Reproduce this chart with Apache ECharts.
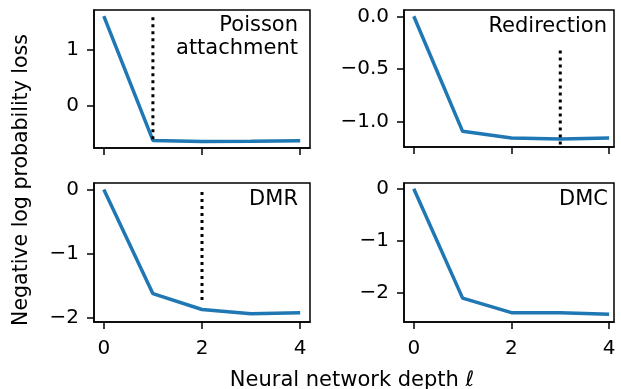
<!DOCTYPE html>
<html>
<head>
<meta charset="utf-8">
<script src="https://cdn.jsdelivr.net/npm/echarts@6/dist/echarts.min.js"></script>
<style>
html,body{margin:0;padding:0;background:#fff;}
#c{width:621px;height:389px;}
</style>
</head>
<body>
<div id="c"></div>
<script>
// ---- data ----
var depth = [0, 1, 2, 3, 4];
var poisson = [1.60, -0.625, -0.643, -0.638, -0.628];
var redirection = [0, -1.095, -1.158, -1.168, -1.158];
var dmr = [0, -1.62, -1.866, -1.933, -1.917];
var dmc = [0, -2.11, -2.39, -2.39, -2.42];
var panelNames = ['Poisson\nattachment', 'Redirection', 'DMR', 'DMC'];
var xTicks = [0, 2, 4];
var yTicks = [[0, 1], [0, -0.5, -1.0], [0, -1, -2], [0, -1, -2]];
var yDecimals = [0, 1, 0, 0];
var yRanges = [[-0.76, 1.71], [-1.244, 0.06], [-2.06, 0.1], [-2.57, 0.11]];
// dotted marker lines: [x, yFrom, yTo]
var markers = [[1, 1.58, -0.655], [3, -0.325, -1.244], [2, -0.04, -1.72], null];
var xLabel = 'Neural network depth \u2113';
var yLabel = 'Negative log probability loss';

var series = [poisson, redirection, dmr, dmc];
var FONT = 'DejaVu Sans';
var grids = [
  {left: 94, top: 10, width: 216, height: 138},
  {left: 404, top: 10, width: 210, height: 137},
  {left: 94, top: 183, width: 216, height: 139},
  {left: 404, top: 183, width: 210, height: 139}
];
var xMax = [4.2, 4.1, 4.2, 4.1];

function fmt(d) {
  return function (v) {
    var s = Math.abs(v).toFixed(d);
    return (v < -1e-9 ? '\u2212' : '') + s;
  };
}

var option = {
  animation: false,
  backgroundColor: '#fff',
  grid: grids.map(function (g) {
    return Object.assign({show: true, borderColor: '#000', borderWidth: 1.5, backgroundColor: 'transparent'}, g);
  }),
  xAxis: grids.map(function (g, i) {
    return {
      type: 'value', gridIndex: i, min: -0.2, max: xMax[i],
      splitLine: {show: false},
      axisLine: {show: true, onZero: false, lineStyle: {color: '#000', width: 1.5}},
      axisTick: {show: true, length: 7, customValues: xTicks, lineStyle: {color: '#000', width: 1.5}},
      axisLabel: {show: i >= 2, customValues: xTicks, margin: 17, fontSize: 20, fontFamily: FONT, color: '#000'}
    };
  }),
  yAxis: grids.map(function (g, i) {
    return {
      type: 'value', gridIndex: i, min: yRanges[i][0], max: yRanges[i][1],
      splitLine: {show: false},
      axisLine: {show: true, onZero: false, lineStyle: {color: '#000', width: 1.5}},
      axisTick: {show: true, length: 7, customValues: yTicks[i], lineStyle: {color: '#000', width: 1.5}},
      axisLabel: {show: true, customValues: yTicks[i], margin: 15, fontSize: 20, fontFamily: FONT, color: '#000', formatter: fmt(yDecimals[i])}
    };
  }),
  series: [],
  graphic: []
};

series.forEach(function (vals, i) {
  option.series.push({
    type: 'line', xAxisIndex: i, yAxisIndex: i,
    data: depth.map(function (d, k) { return [d, vals[k]]; }),
    showSymbol: false, symbol: 'none',
    lineStyle: {color: '#1f77b4', width: 3.5},
    z: 2
  });
  if (markers[i]) {
    var m = markers[i];
    option.series.push({
      type: 'line', xAxisIndex: i, yAxisIndex: i,
      data: [[m[0], m[1]], [m[0], m[2]]],
      showSymbol: false, symbol: 'none',
      lineStyle: {color: '#000', width: 3, type: [3, 4], cap: 'butt'},
      z: 3
    });
  }
});

var labelPos = [[298, 14], [607, 15], [298, 188.5], [608, 188.5]];
panelNames.forEach(function (n, i) {
  option.graphic.push({
    type: 'text', x: labelPos[i][0], y: labelPos[i][1], z: 10,
    style: {text: n, textAlign: 'right', textVerticalAlign: 'top', fontSize: 21, fontFamily: FONT, lineHeight: 23, fill: '#000'}
  });
});
option.graphic.push({
  type: 'text', x: 352, y: 381, z: 10,
  style: {text: xLabel, textAlign: 'center', textVerticalAlign: 'middle', fontSize: 21, fontFamily: FONT, fill: '#000'}
});
option.graphic.push({
  type: 'text', x: 22, y: 180, rotation: Math.PI / 2, z: 10,
  style: {text: yLabel, textAlign: 'center', textVerticalAlign: 'middle', fontSize: 20.5, fontFamily: FONT, fill: '#000'}
});

var chart = echarts.init(document.getElementById('c'), null, {renderer: 'canvas'});
chart.setOption(option);
</script>
</body>
</html>
